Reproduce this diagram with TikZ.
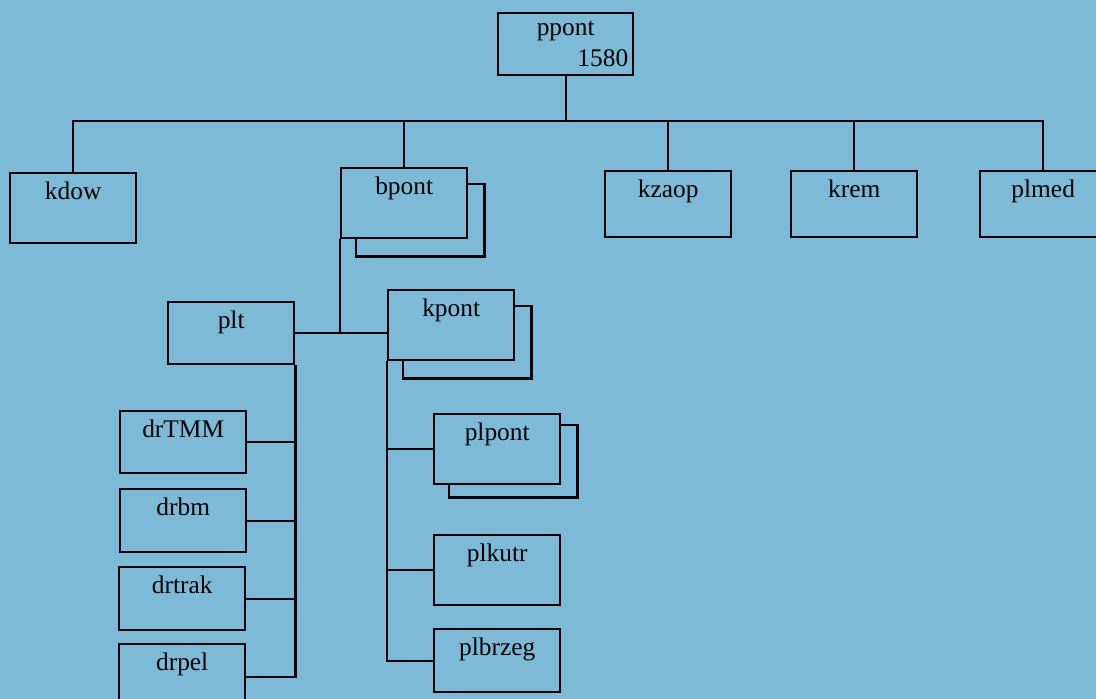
\documentclass[tikz,border=0pt]{standalone}
\usepackage{fontspec}
\setmainfont{Liberation Serif}
\definecolor{paper}{RGB}{125,186,216}
\tikzset{
  box/.style={draw, line width=1.2pt, fill=paper, anchor=north west,
    text width=53pt, align=center, inner xsep=5pt, inner ysep=4pt,
    text height=9pt, text depth=#1},
  box/.default=18pt,
  wire/.style={line width=1.2pt},
}
% second sheet behind a box: node, x offset, y offset
\newcommand{\backsheet}[3]{%
  \draw[wire] ([yshift=-#3]#1.north east) -| ([shift={(#2,-#3)}]#1.south east)
    -| ([xshift=#2]#1.south west);}

\begin{document}
\begin{tikzpicture}[x=0.5pt, y=-0.5pt, every node/.style={font=\fontsize{12.7}{15.2}\selectfont}]

    \fill[paper] (0,0) rectangle (1096,699);
    \useasboundingbox (0,0) rectangle (1096,699);

    % top level
    \node[draw, line width=1.2pt, anchor=north west, text width=62.5pt, inner xsep=2.5pt,
      inner ysep=0pt, minimum height=31pt, align=center] (ppont) at (497,12) {ppont\\[0.5pt]\hspace*{\fill}1580};
    \node[box] (kdow) at (9,172) {kdow};
    \node[box] (bpont) at (340,167) {bpont};
    \node[box=16pt] (kzaop) at (604,170) {kzaop};
    \node[box=16pt] (krem) at (790,170) {krem};
    \node[box=16pt] (plmed) at (979,170) {plmed};

    \coordinate (bus) at (ppont.south |- 0,121);
    \draw[wire] (ppont.south) -- (bus);
    \foreach \n in {kdow,bpont,kzaop,krem,plmed}
      \draw[wire] (bus) -| (\n);

    % under bpont
    \node[box=14pt] (plt) at (167,301) {plt};
    \node[box] (kpont) at (387,289) {kpont};
    \backsheet{bpont}{8pt}{8.5pt}
    \backsheet{kpont}{8pt}{8.5pt}

    \coordinate (fork) at (bpont.south west |- plt.east);
    \draw[wire] (bpont.south west) -- (fork);
    \draw[wire] (plt.east) -- (fork -| kpont.west);

    % under plt
    \node[box=14pt] (drTMM) at (119,410) {drTMM};
    \node[box=14.5pt] (drbm) at (119,488) {drbm};
    \node[box=14.5pt] (drtrak) at (118,566) {drtrak};
    \node[box=16pt] (drpel) at (118,643) {drpel};

    \draw[wire] (plt.south east) |- (drpel);
    \foreach \n in {drTMM,drbm,drtrak}
      \draw[wire] (\n) -- (\n -| plt.east);

    % under kpont
    \node[box] (plpont) at (433,413) {plpont};
    \node[box] (plkutr) at (433,534) {plkutr};
    \node[box=14.5pt] (plbrzeg) at (433,628) {plbrzeg};
    \backsheet{plpont}{8pt}{6pt}

    \draw[wire] (kpont.south west) |- (plbrzeg);
    \foreach \n in {plpont,plkutr}
      \draw[wire] (\n) -- (\n -| kpont.west);

\end{tikzpicture}
\end{document}
